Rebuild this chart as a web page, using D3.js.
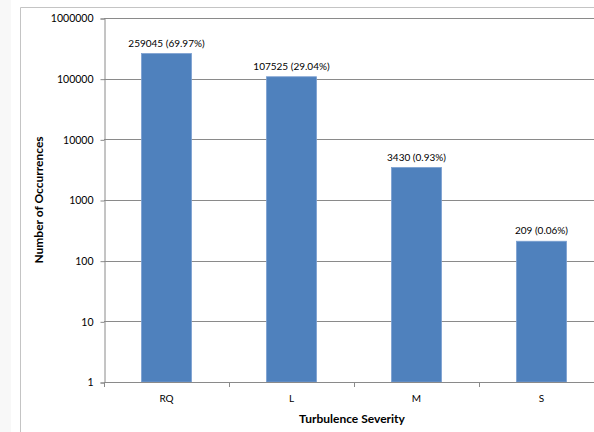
<!DOCTYPE html>
<html>
<head>
<meta charset="utf-8">
<script src="https://cdn.jsdelivr.net/npm/d3@7"></script>
<style>
  html, body { margin: 0; padding: 0; background: #ffffff; }
  svg { display: block; }
  text { font-family: Lato, "Open Sans", sans-serif; fill: #000; }
</style>
</head>
<body>
<div id="chart"></div>
<script>
// Turbulence occurrences by severity class
const categories = ["RQ", "L", "M", "S"];
const counts = [259045, 107525, 3430, 209];
const shares = ["69.97%", "29.04%", "0.93%", "0.06%"];
const yTicks = [1, 10, 100, 1000, 10000, 100000, 1000000];

const W = 594, H = 432;
const plot = { left: 104, right: 604, top: 18, bottom: 382 };

const svg = d3.select("#chart").append("svg")
  .attr("width", W).attr("height", H);

// page strip and chart frame
svg.append("rect").attr("x", 0).attr("y", 0).attr("width", 11).attr("height", H).attr("fill", "#f8f8f8");
svg.append("path")
  .attr("d", `M20.5,${H} V7.5 H${W}`)
  .attr("fill", "none").attr("stroke", "#c4c4c4").attr("stroke-width", 1);

const x = d3.scaleBand().domain(categories)
  .range([plot.left, plot.right]).paddingInner(0.6).paddingOuter(0.3);

const y = d3.scaleLog().domain([1, 1000000]).range([plot.bottom, plot.top]);

// horizontal gridlines
svg.append("g").selectAll("line").data(yTicks.slice(1)).join("line")
  .attr("x1", plot.left).attr("x2", W)
  .attr("y1", d => Math.round(y(d)) + 0.5).attr("y2", d => Math.round(y(d)) + 0.5)
  .attr("stroke", "#8a8a8a").attr("stroke-width", 1);

// y axis
const yAxis = d3.axisLeft(y).tickValues(yTicks).tickFormat(d3.format("d")).tickSize(4).tickPadding(7);
const gy = svg.append("g").attr("transform", `translate(${plot.left + 0.5},0.5)`).call(yAxis);
gy.select(".domain").attr("stroke", "#8a8a8a");
gy.selectAll(".tick line").attr("stroke", "#8a8a8a");
gy.selectAll(".tick text").attr("font-size", "10.5px").attr("fill", "#000")
  .style("font-family", "Lato, sans-serif");

// bars
svg.append("g").selectAll("rect").data(counts).join("rect")
  .attr("x", (d, i) => x(categories[i]))
  .attr("y", d => y(d))
  .attr("width", x.bandwidth())
  .attr("height", d => plot.bottom - y(d))
  .attr("fill", "#4f81bd")
  .attr("stroke", "#7a9fd0").attr("stroke-width", 0.8);

// value labels
svg.append("g").selectAll("text").data(counts).join("text")
  .attr("x", (d, i) => x(categories[i]) + x.bandwidth() / 2)
  .attr("y", d => y(d) - 7)
  .attr("text-anchor", "middle")
  .attr("font-size", "10px")
  .text((d, i) => `${d} (${shares[i]})`);

// x axis
const band = (plot.right - plot.left) / categories.length;
const xAxisG = svg.append("g");
xAxisG.append("line")
  .attr("x1", plot.left).attr("x2", W)
  .attr("y1", plot.bottom + 0.5).attr("y2", plot.bottom + 0.5)
  .attr("stroke", "#8a8a8a");
xAxisG.selectAll("line.tk").data(d3.range(categories.length + 1)).join("line")
  .attr("class", "tk")
  .attr("x1", i => Math.round(plot.left + i * band) + 0.5)
  .attr("x2", i => Math.round(plot.left + i * band) + 0.5)
  .attr("y1", plot.bottom).attr("y2", plot.bottom + 5)
  .attr("stroke", "#8a8a8a");
xAxisG.selectAll("text").data(categories).join("text")
  .attr("x", d => x(d) + x.bandwidth() / 2)
  .attr("y", 402)
  .attr("text-anchor", "middle")
  .attr("font-size", "10px")
  .text(d => d);

// axis titles
svg.append("text")
  .attr("x", (plot.left + plot.right) / 2 - 2).attr("y", 423)
  .attr("text-anchor", "middle")
  .attr("font-size", "12px").attr("font-weight", "bold")
  .text("Turbulence Severity");

svg.append("text")
  .attr("transform", `translate(43,${(plot.top + plot.bottom) / 2}) rotate(-90)`)
  .attr("text-anchor", "middle")
  .attr("font-size", "12px").attr("font-weight", "bold")
  .text("Number of Occurrences");
</script>
</body>
</html>
